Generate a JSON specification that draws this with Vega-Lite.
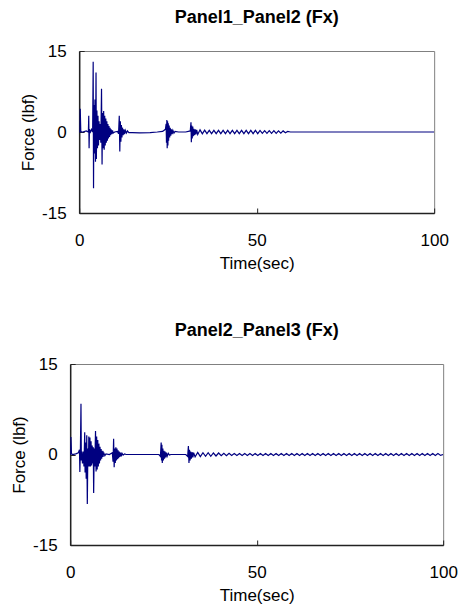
{
  "$schema": "https://vega.github.io/schema/vega-lite/v6.json",
  "padding": {"left": 10, "top": 8, "right": 5, "bottom": 0},
  "background": "white",
  "config": {
    "font": "Liberation Sans",
    "view": {"stroke": "#808080", "strokeWidth": 1},
    "axis": {
      "grid": false,
      "domainColor": "#222222",
      "domainWidth": 1.5,
      "tickColor": "#222222",
      "tickSize": -5,
      "tickWidth": 1,
      "labelFontSize": 17,
      "labelColor": "black",
      "titleFontSize": 17,
      "titleFontWeight": "normal",
      "titleColor": "black",
      "labelExpr": "datum.value < 0 ? '-' + format(-datum.value, 'd') : datum.label"
    },
    "axisX": {"labelPadding": 24, "titlePadding": 7, "labelFlush": false},
    "axisY": {"labelPadding": 18, "titlePadding": 4, "labelFlush": false},
    "title": {"fontSize": 18, "fontWeight": "bold", "offset": 15, "color": "black"}
  },
  "datasets": {
    "p1": [
      {"t": 0, "f": 0}, {"t": 0.2, "f": 0}, {"t": 0.3, "f": 4.3}, {"t": 0.45, "f": 0.3}, {"t": 0.6, "f": 0},
      {"t": 1.0, "f": 0}, {"t": 2.0, "f": 0.2}, {"t": 2.6, "f": 0}, {"t": 2.7, "f": 3}, {"t": 2.8, "f": -3},
      {"t": 2.9, "f": 0.5}, {"t": 3.2, "f": 0}, {"t": 3.5, "f": 0.5}, {"t": 3.8, "f": 0}, {"t": 3.95, "f": 13},
      {"t": 4.05, "f": -10.4}, {"t": 4.15, "f": 5}, {"t": 4.3, "f": -4}, {"t": 4.45, "f": 6}, {"t": 4.6, "f": -5.5},
      {"t": 4.75, "f": 11}, {"t": 4.85, "f": -5}, {"t": 5.0, "f": 4}, {"t": 5.15, "f": -3}, {"t": 5.3, "f": 3},
      {"t": 5.45, "f": -2.5}, {"t": 5.6, "f": 2}, {"t": 5.75, "f": -1.5}, {"t": 5.9, "f": 1.5}, {"t": 6.1, "f": -2},
      {"t": 6.3, "f": 8}, {"t": 6.45, "f": -6}, {"t": 6.6, "f": 3.5}, {"t": 6.75, "f": -3}, {"t": 6.9, "f": 3.9},
      {"t": 7.05, "f": -3.3}, {"t": 7.2, "f": 3}, {"t": 7.35, "f": -2.5}, {"t": 7.5, "f": 2.5}, {"t": 7.65, "f": -2},
      {"t": 7.8, "f": 2}, {"t": 7.95, "f": -1.6}, {"t": 8.1, "f": 1.5}, {"t": 8.25, "f": -1.2}, {"t": 8.4, "f": 1.1},
      {"t": 8.55, "f": -0.9}, {"t": 8.7, "f": 0.8}, {"t": 8.85, "f": -0.6}, {"t": 9.0, "f": 0.5}, {"t": 9.2, "f": -0.4},
      {"t": 9.4, "f": 0.3}, {"t": 9.6, "f": -0.2}, {"t": 10.0, "f": 0}, {"t": 10.8, "f": 0.1}, {"t": 11.1, "f": -0.3},
      {"t": 11.3, "f": 3}, {"t": 11.45, "f": -3.6}, {"t": 11.6, "f": 2}, {"t": 11.75, "f": -1.8}, {"t": 11.9, "f": 1.3},
      {"t": 12.05, "f": -1}, {"t": 12.2, "f": 0.8}, {"t": 12.4, "f": -0.6}, {"t": 12.6, "f": 0.5}, {"t": 12.8, "f": -0.4},
      {"t": 13.0, "f": 0.3}, {"t": 13.3, "f": -0.2}, {"t": 13.6, "f": 0.2}, {"t": 14.0, "f": -0.1}, {"t": 15.0, "f": -0.1},
      {"t": 17.0, "f": -0.15}, {"t": 20.0, "f": -0.1}, {"t": 22.0, "f": 0}, {"t": 23.5, "f": 0.1}, {"t": 24.3, "f": 0.5},
      {"t": 24.5, "f": 1.5}, {"t": 24.6, "f": -2}, {"t": 24.7, "f": 2.2}, {"t": 24.8, "f": -3}, {"t": 24.9, "f": 2},
      {"t": 25.0, "f": -2.5}, {"t": 25.1, "f": 1.6}, {"t": 25.2, "f": -1.6}, {"t": 25.35, "f": 1.2}, {"t": 25.5, "f": -1},
      {"t": 25.65, "f": 0.8}, {"t": 25.8, "f": -0.7}, {"t": 26.0, "f": 0.5}, {"t": 26.2, "f": -0.4}, {"t": 26.4, "f": 0.3},
      {"t": 26.7, "f": -0.2}, {"t": 27.0, "f": 0.1}, {"t": 28.0, "f": 0}, {"t": 30.0, "f": 0}, {"t": 31.3, "f": 0.2},
      {"t": 31.5, "f": 1.8}, {"t": 31.6, "f": -1.9}, {"t": 31.7, "f": 1.2}, {"t": 31.85, "f": -1.2}, {"t": 32.0, "f": 1},
      {"t": 32.15, "f": -0.8}, {"t": 32.3, "f": 0.6}, {"t": 32.5, "f": -0.6}, {"t": 32.7, "f": 0.5}, {"t": 32.9, "f": -0.45},
      {"t": 33.1, "f": 0.4}, {"t": 33.4, "f": -0.45}, {"t": 34.05, "f": 0.4}, {"t": 34.7, "f": -0.35}, {"t": 35.35, "f": 0.35},
      {"t": 36.0, "f": -0.3}, {"t": 36.65, "f": 0.3}, {"t": 37.3, "f": -0.3}, {"t": 37.95, "f": 0.3}, {"t": 38.6, "f": -0.3},
      {"t": 39.25, "f": 0.3}, {"t": 39.9, "f": -0.3}, {"t": 40.55, "f": 0.3}, {"t": 41.2, "f": -0.3}, {"t": 41.85, "f": 0.3},
      {"t": 42.5, "f": -0.3}, {"t": 43.15, "f": 0.3}, {"t": 43.8, "f": -0.3}, {"t": 44.45, "f": 0.3}, {"t": 45.1, "f": -0.3},
      {"t": 45.75, "f": 0.3}, {"t": 46.4, "f": -0.3}, {"t": 47.05, "f": 0.3}, {"t": 47.7, "f": -0.3}, {"t": 48.35, "f": 0.3},
      {"t": 49.0, "f": -0.3}, {"t": 49.65, "f": 0.3}, {"t": 50.3, "f": -0.3}, {"t": 50.95, "f": 0.3}, {"t": 51.6, "f": -0.25},
      {"t": 52.25, "f": 0.25}, {"t": 52.9, "f": -0.25}, {"t": 53.55, "f": 0.25}, {"t": 54.2, "f": -0.25}, {"t": 54.85, "f": 0.25},
      {"t": 55.5, "f": -0.25}, {"t": 56.15, "f": 0.2}, {"t": 56.8, "f": -0.2}, {"t": 57.45, "f": 0.2}, {"t": 58.1, "f": -0.15},
      {"t": 58.75, "f": 0.1}, {"t": 59.5, "f": 0}, {"t": 100, "f": 0}
    ],
    "p2": [
      {"t": 0, "f": 0}, {"t": 0.1, "f": 0}, {"t": 0.2, "f": 2.9}, {"t": 0.35, "f": 0.2}, {"t": 0.6, "f": 0},
      {"t": 1.5, "f": 0.1}, {"t": 2.2, "f": 0.3}, {"t": 2.5, "f": 0.8}, {"t": 2.6, "f": -2.9}, {"t": 2.75, "f": 1},
      {"t": 2.9, "f": 8.4}, {"t": 3.0, "f": -1}, {"t": 3.1, "f": 0.5}, {"t": 3.3, "f": -1.5}, {"t": 3.5, "f": 0.5},
      {"t": 3.7, "f": -2}, {"t": 3.9, "f": 3.7}, {"t": 4.0, "f": -3}, {"t": 4.15, "f": 2}, {"t": 4.3, "f": -4},
      {"t": 4.45, "f": 3.2}, {"t": 4.6, "f": -8.2}, {"t": 4.75, "f": 1}, {"t": 4.9, "f": -2}, {"t": 5.0, "f": 3},
      {"t": 5.15, "f": -2}, {"t": 5.3, "f": 2.8}, {"t": 5.45, "f": -2}, {"t": 5.6, "f": 2.2}, {"t": 5.75, "f": -1.8},
      {"t": 5.9, "f": 1.5}, {"t": 6.05, "f": -1.5}, {"t": 6.2, "f": 1.2}, {"t": 6.3, "f": -6.4}, {"t": 6.45, "f": 1},
      {"t": 6.6, "f": -2}, {"t": 6.8, "f": 3.9}, {"t": 6.95, "f": -2.8}, {"t": 7.1, "f": 3}, {"t": 7.25, "f": -2.5},
      {"t": 7.4, "f": 2.4}, {"t": 7.55, "f": -2}, {"t": 7.7, "f": 1.8}, {"t": 7.85, "f": -1.5}, {"t": 8.0, "f": 1.3},
      {"t": 8.15, "f": -1}, {"t": 8.3, "f": 0.9}, {"t": 8.45, "f": -0.7}, {"t": 8.6, "f": 0.6}, {"t": 8.8, "f": -0.4},
      {"t": 9.0, "f": 0.3}, {"t": 9.3, "f": -0.2}, {"t": 9.6, "f": 0.1}, {"t": 10.5, "f": 0}, {"t": 11.3, "f": 0.3},
      {"t": 11.5, "f": -1.2}, {"t": 11.65, "f": 2.6}, {"t": 11.8, "f": -2.1}, {"t": 11.95, "f": 1}, {"t": 12.1, "f": -1.4},
      {"t": 12.25, "f": 1.2}, {"t": 12.4, "f": -1}, {"t": 12.55, "f": 1}, {"t": 12.7, "f": -0.8}, {"t": 12.85, "f": 0.7},
      {"t": 13.0, "f": -0.6}, {"t": 13.15, "f": 0.5}, {"t": 13.3, "f": -0.4}, {"t": 13.5, "f": 0.3}, {"t": 13.7, "f": -0.3},
      {"t": 13.9, "f": 0.2}, {"t": 14.2, "f": -0.1}, {"t": 14.6, "f": 0.1}, {"t": 15.0, "f": 0}, {"t": 23.8, "f": 0},
      {"t": 24.2, "f": -0.3}, {"t": 24.4, "f": 2}, {"t": 24.5, "f": -1}, {"t": 24.6, "f": 1.6}, {"t": 24.7, "f": -1.4},
      {"t": 24.85, "f": 1}, {"t": 25.0, "f": -1}, {"t": 25.15, "f": 0.6}, {"t": 25.3, "f": -0.7}, {"t": 25.45, "f": 0.5},
      {"t": 25.6, "f": -0.5}, {"t": 25.8, "f": 0.3}, {"t": 26.0, "f": -0.3}, {"t": 26.3, "f": 0.2}, {"t": 26.6, "f": -0.1},
      {"t": 27.0, "f": 0}, {"t": 31.0, "f": 0}, {"t": 31.5, "f": -0.3}, {"t": 31.7, "f": 1.4}, {"t": 31.85, "f": -1.4},
      {"t": 32.0, "f": 0.8}, {"t": 32.15, "f": -1}, {"t": 32.3, "f": 0.5}, {"t": 32.5, "f": -0.7}, {"t": 32.7, "f": 0.4},
      {"t": 32.9, "f": -0.5}, {"t": 33.1, "f": 0.3}, {"t": 33.5, "f": -0.4}, {"t": 34.2, "f": 0.35}, {"t": 34.9, "f": -0.35},
      {"t": 35.6, "f": 0.3}, {"t": 36.3, "f": -0.3}, {"t": 37.0, "f": 0.3}, {"t": 37.7, "f": -0.3}, {"t": 38.4, "f": 0.25},
      {"t": 39.1, "f": -0.25}, {"t": 39.8, "f": 0.25}, {"t": 40.5, "f": -0.2}, {"t": 41.2, "f": 0.2}, {"t": 41.9, "f": -0.2},
      {"t": 42.6, "f": 0.2}, {"t": 43.3, "f": -0.15}, {"t": 44.0, "f": 0.15}, {"t": 44.7, "f": -0.15}, {"t": 45.4, "f": 0.15},
      {"t": 46.1, "f": -0.15}, {"t": 46.8, "f": 0.15}, {"t": 47.5, "f": -0.15}, {"t": 48.2, "f": 0.15}, {"t": 48.9, "f": -0.15},
      {"t": 49.6, "f": 0.15}, {"t": 50.3, "f": -0.15}, {"t": 51.0, "f": 0.15}, {"t": 51.7, "f": -0.15}, {"t": 52.4, "f": 0.15},
      {"t": 53.1, "f": -0.15}, {"t": 53.8, "f": 0.15}, {"t": 54.5, "f": -0.15}, {"t": 55.2, "f": 0.15}, {"t": 55.9, "f": -0.15},
      {"t": 56.6, "f": 0.15}, {"t": 57.3, "f": -0.15}, {"t": 58.0, "f": 0.15}, {"t": 58.7, "f": -0.15}, {"t": 59.4, "f": 0.15},
      {"t": 60.1, "f": -0.15}, {"t": 60.8, "f": 0.15}, {"t": 61.5, "f": -0.15}, {"t": 62.2, "f": 0.15}, {"t": 62.9, "f": -0.15},
      {"t": 63.6, "f": 0.15}, {"t": 64.3, "f": -0.15}, {"t": 65.0, "f": 0.15}, {"t": 65.7, "f": -0.15}, {"t": 66.4, "f": 0.15},
      {"t": 67.1, "f": -0.15}, {"t": 67.8, "f": 0.15}, {"t": 68.5, "f": -0.15}, {"t": 69.2, "f": 0.15}, {"t": 69.9, "f": -0.15},
      {"t": 70.6, "f": 0.15}, {"t": 71.3, "f": -0.15}, {"t": 72.0, "f": 0.15}, {"t": 72.7, "f": -0.15}, {"t": 73.4, "f": 0.15},
      {"t": 74.1, "f": -0.15}, {"t": 74.8, "f": 0.15}, {"t": 75.5, "f": -0.15}, {"t": 76.2, "f": 0.15}, {"t": 76.9, "f": -0.15},
      {"t": 77.6, "f": 0.15}, {"t": 78.3, "f": -0.15}, {"t": 79.0, "f": 0.15}, {"t": 79.7, "f": -0.15}, {"t": 80.4, "f": 0.15},
      {"t": 81.1, "f": -0.15}, {"t": 81.8, "f": 0.15}, {"t": 82.5, "f": -0.15}, {"t": 83.2, "f": 0.15}, {"t": 83.9, "f": -0.15},
      {"t": 84.6, "f": 0.15}, {"t": 85.3, "f": -0.15}, {"t": 86.0, "f": 0.15}, {"t": 86.7, "f": -0.15}, {"t": 87.4, "f": 0.15},
      {"t": 88.1, "f": -0.15}, {"t": 88.8, "f": 0.15}, {"t": 89.5, "f": -0.15}, {"t": 90.2, "f": 0.15}, {"t": 90.9, "f": -0.15},
      {"t": 91.6, "f": 0.15}, {"t": 92.3, "f": -0.15}, {"t": 93.0, "f": 0.15}, {"t": 93.7, "f": -0.15}, {"t": 94.4, "f": 0.15},
      {"t": 95.1, "f": -0.15}, {"t": 95.8, "f": 0.15}, {"t": 96.5, "f": -0.15}, {"t": 97.2, "f": 0.15}, {"t": 97.9, "f": -0.15},
      {"t": 98.6, "f": 0.15}, {"t": 99.3, "f": -0.15}, {"t": 100, "f": 0}
    ]
  },
  "spacing": 49,
  "center": true,
  "vconcat": [
    {
      "title": "Panel1_Panel2 (Fx)",
      "width": 355,
      "height": 162,
      "data": {"name": "p1"},
      "mark": {"type": "line", "color": "#000080", "strokeWidth": 1.2, "clip": true},
      "encoding": {
        "x": {"field": "t", "type": "quantitative", "scale": {"domain": [0, 100], "nice": false},
              "axis": {"values": [0, 50, 100], "title": "Time(sec)"}},
        "y": {"field": "f", "type": "quantitative", "scale": {"domain": [-15, 15], "nice": false},
              "axis": {"values": [-15, 0, 15], "title": "Force (lbf)"}}
      }
    },
    {
      "title": "Panel2_Panel3 (Fx)",
      "width": 373,
      "height": 181,
      "data": {"name": "p2"},
      "mark": {"type": "line", "color": "#000080", "strokeWidth": 1.2, "clip": true},
      "encoding": {
        "x": {"field": "t", "type": "quantitative", "scale": {"domain": [0, 100], "nice": false},
              "axis": {"values": [0, 50, 100], "title": "Time(sec)"}},
        "y": {"field": "f", "type": "quantitative", "scale": {"domain": [-15, 15], "nice": false},
              "axis": {"values": [-15, 0, 15], "title": "Force (lbf)"}}
      }
    }
  ]
}
